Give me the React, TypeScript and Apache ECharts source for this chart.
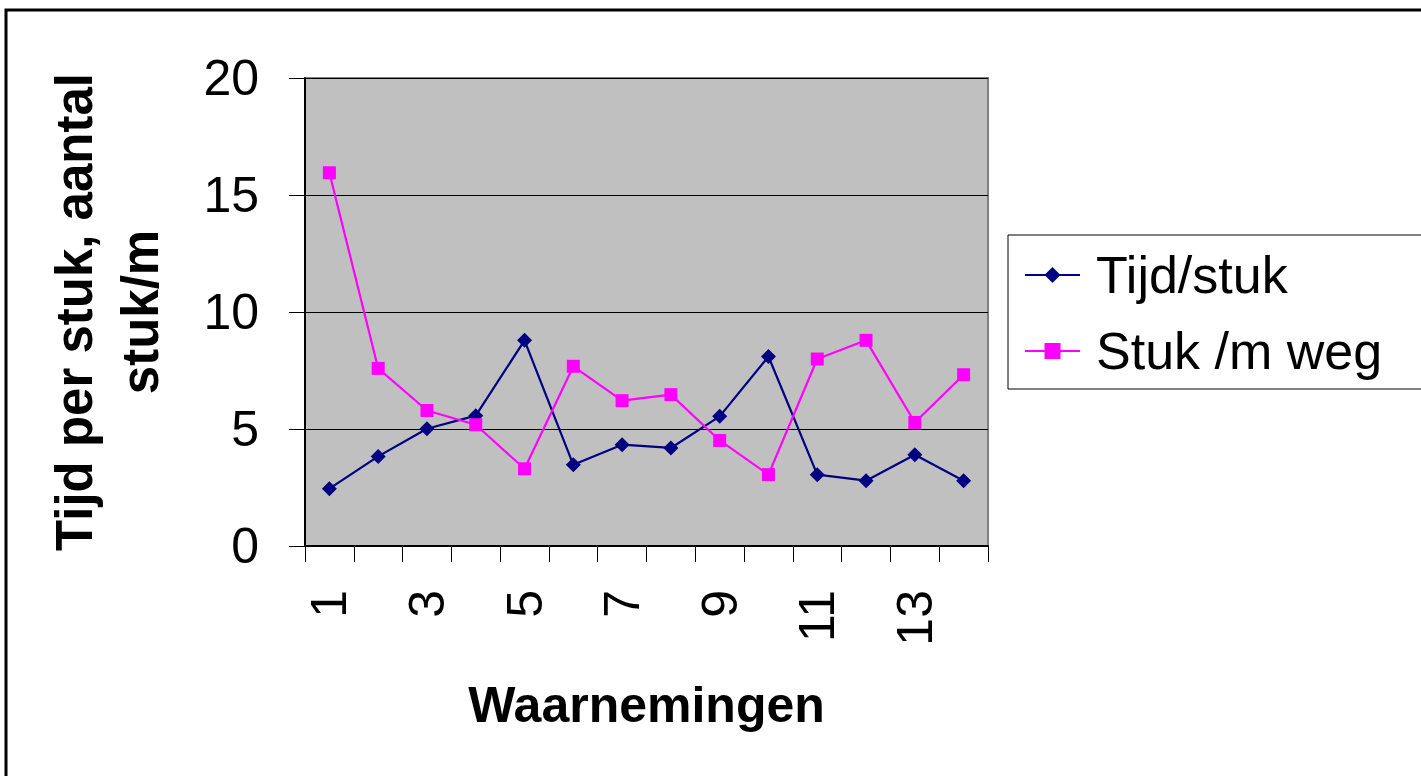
import React, { useEffect, useRef } from "react";
import * as echarts from "echarts";

// Observation numbers along the horizontal axis
const categories: string[] = ["1", "2", "3", "4", "5", "6", "7", "8", "9", "10", "11", "12", "13", "14"];

// Time per piece
const tijdPerStuk: number[] = [2.45, 3.83, 5.01, 5.57, 8.79, 3.47, 4.33, 4.19, 5.54, 8.1, 3.05, 2.79, 3.9, 2.79];

// Pieces per metre of road
const stukPerMeterWeg: number[] = [15.95, 7.59, 5.79, 5.18, 3.3, 7.68, 6.21, 6.47, 4.51, 3.05, 7.99, 8.79, 5.28, 7.32];

const seriesNames: string[] = ["Tijd/stuk", "Stuk /m weg"];
const yAxisTitle = "Tijd per stuk, aantal\nstuk/m";
const xAxisTitle = "Waarnemingen";

const FONT = "'Liberation Sans', Arial, sans-serif";

export default function App() {
  const ref = useRef<HTMLDivElement | null>(null);

  useEffect(() => {
    if (!ref.current) return;
    const chart = echarts.init(ref.current, null, { renderer: "svg" });
    chart.setOption({
      animation: false,
      backgroundColor: "#ffffff",
      textStyle: { fontFamily: FONT, color: "#000" },
      graphic: [
        {
          type: "rect",
          shape: { x: 6, y: 10, width: 1500, height: 900 },
          style: { fill: "none", stroke: "#000", lineWidth: 3 },
          z: 100,
        },
      ],
      grid: {
        left: 305,
        top: 78,
        width: 683,
        height: 468,
        show: true,
        backgroundColor: "#C0C0C0",
        borderColor: "#808080",
        borderWidth: 2,
      },
      legend: {
        orient: "vertical",
        left: 1008,
        top: 235,
        data: seriesNames,
        itemWidth: 55,
        itemHeight: 20,
        itemGap: 16,
        padding: [10, 40, 8, 16],
        borderColor: "#000",
        borderWidth: 1,
        backgroundColor: "#fff",
        textStyle: {
          fontSize: 52,
          lineHeight: 60,
          color: "#000",
          fontFamily: FONT,
          padding: [0, 0, 0, 11],
        },
      },
      xAxis: {
        type: "category",
        data: categories,
        boundaryGap: true,
        name: xAxisTitle,
        nameLocation: "middle",
        nameGap: 134,
        nameTextStyle: { fontSize: 50, fontWeight: "bold", color: "#000", fontFamily: FONT },
        axisLine: { show: true, lineStyle: { color: "#000", width: 2 } },
        axisTick: { show: true, interval: 0, length: 16, lineStyle: { color: "#000", width: 1 } },
        axisLabel: {
          interval: 1,
          rotate: 90,
          fontSize: 50,
          margin: 44,
          color: "#000",
          fontFamily: FONT,
        },
        splitLine: { show: false },
      },
      yAxis: {
        type: "value",
        min: 0,
        max: 20,
        interval: 5,
        name: yAxisTitle,
        nameLocation: "middle",
        nameRotate: 90,
        nameGap: 132,
        nameTextStyle: {
          fontSize: 51,
          fontWeight: "bold",
          lineHeight: 66,
          align: "center",
          color: "#000",
          fontFamily: FONT,
        },
        axisLine: { show: true, lineStyle: { color: "#000", width: 2 } },
        axisTick: { show: true, length: 16, lineStyle: { color: "#000", width: 1 } },
        axisLabel: { fontSize: 50, margin: 46, color: "#000", fontFamily: FONT },
        splitLine: { show: true, lineStyle: { color: "#000", width: 1 } },
      },
      series: [
        {
          name: seriesNames[0],
          type: "line",
          data: tijdPerStuk,
          symbol: "diamond",
          symbolSize: 15,
          color: "#000080",
          itemStyle: { color: "#000080" },
          lineStyle: { color: "#000080", width: 2.2 },
        },
        {
          name: seriesNames[1],
          type: "line",
          data: stukPerMeterWeg,
          symbol: "rect",
          symbolSize: 13,
          color: "#FF00FF",
          itemStyle: { color: "#FF00FF" },
          lineStyle: { color: "#FF00FF", width: 2.2 },
        },
      ],
    });
    return () => chart.dispose();
  }, []);

  return (
    <div
      ref={ref}
      style={{ position: "fixed", left: 0, top: 0, width: 1421, height: 776, background: "#fff" }}
    />
  );
}
